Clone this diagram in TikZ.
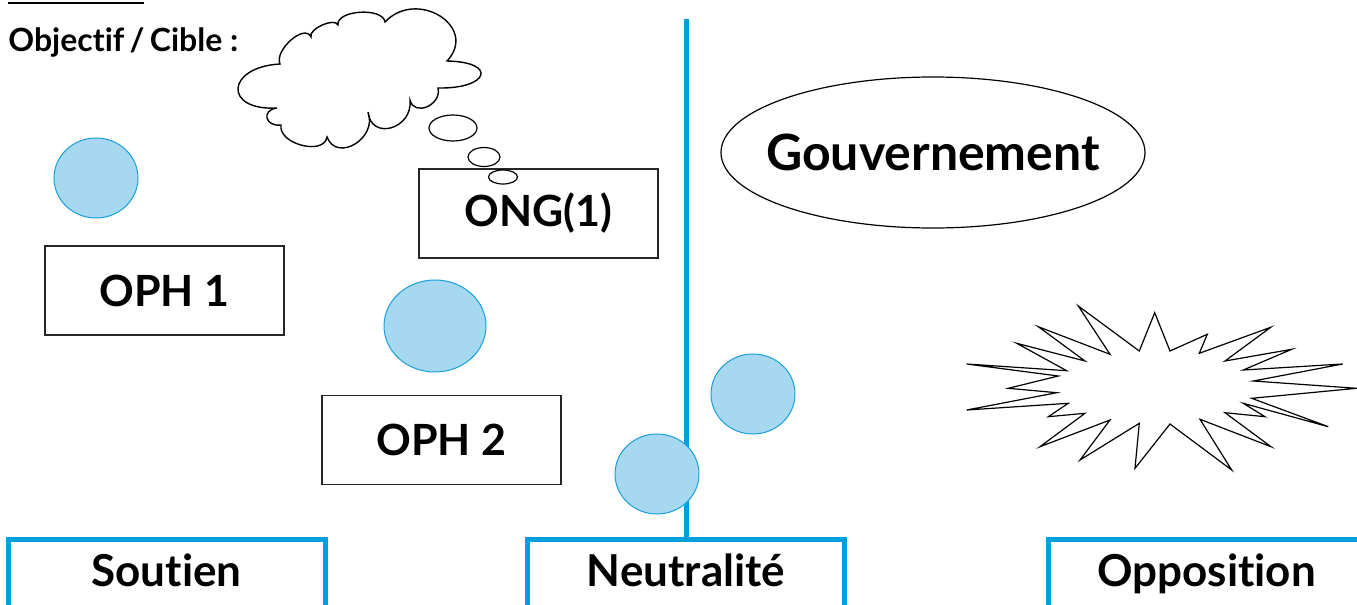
\documentclass[tikz,border=0pt]{standalone}
\usepackage{fontspec}
\setmainfont{Lato}[Ligatures=NoCommon]
\usetikzlibrary{shapes.geometric,positioning}

\definecolor{bleutrait}{RGB}{0,160,223}
\definecolor{bleufond}{RGB}{166,216,240}
\definecolor{bleubord}{RGB}{25,160,220}

\begin{document}
\begin{tikzpicture}[
      x=0.5pt,
      y=-0.5pt
    ]

    \tikzstyle{acteur} = [
        ellipse,
        draw=bleubord,
        fill=bleufond,
        line width=0.5pt,
        inner sep=0pt,
        minimum width=42pt,
        minimum height=40pt
    ]

    \tikzstyle{block} = [
        rectangle,
        draw=black!85,
        line width=0.8pt,
        minimum width=119.5pt,
        minimum height=44.5pt,
        font=\bfseries\fontsize{21.5}{22}\selectfont
    ]

    \tikzstyle{colonne} = [
        rectangle,
        draw=bleutrait,
        line width=2.5pt,
        minimum width=158.5pt,
        minimum height=120pt,
        anchor=north
    ]

    \tikzstyle{etiquette} = [
        anchor=base,
        inner sep=0pt,
        font=\bfseries\fontsize{22}{24}\selectfont
    ]

    \tikzstyle{bulle} = [
        ellipse,
        draw,
        line width=0.6pt,
        inner sep=0pt
    ]

    \clip (0,0) rectangle (1357,605);

    % titre
    \coordinate (traitg) at (8,3);
    \coordinate (traitd) at (144,3);
    \draw[line width=0.8pt] (traitg) -- (traitd);
    \node[anchor=base west, inner sep=0pt, font=\bfseries\fontsize{16}{18}\selectfont] (objectif) at (8,52) {Objectif\,/\,Cible :};

    % colonnes
    \node [colonne] (soutien)    at (166.5,537) {};
    \node [colonne] (neutre)     at (686,537)   {};
    \node [colonne] (opposition) at (1206.5,537) {};
    \coordinate (axehaut) at (686,19);
    \draw[bleutrait, line width=2.5pt] (axehaut) -- (neutre.north);

    \node [etiquette] (soutienlbl)    at (166.5,586)  {Soutien};
    \node [etiquette] (neutrelbl)     at (686,586)    {Neutralité};
    \node [etiquette] (oppositionlbl) at (1206.5,586) {Opposition};

    % nuage
    \draw[line width=0.7pt] (277,108)
        .. controls (223,111) and (226,67) .. (280,64)
        .. controls (274,50) and (305,23) .. (311,37)
        .. controls (308,29) and (335,17) .. (338,25)
        .. controls (336,10) and (383,7) .. (385,22)
        .. controls (417,-12) and (479,27) .. (447,61)
        .. controls (498,62) and (489,89) .. (438,88)
        .. controls (442,105) and (414,117) .. (410,100)
        .. controls (413,129) and (371,141) .. (368,112)
        .. controls (378,138) and (337,163) .. (327,137)
        .. controls (324,156) and (278,144) .. (281,125)
        .. controls (265,127) and (261,110) .. cycle;

    \node [bulle, minimum width=24pt, minimum height=13pt]  (pensee1) at (453,128) {};
    \node [bulle, minimum width=16pt, minimum height=9.5pt] (pensee2) at (484,157) {};

    % acteurs
    \node [block] (oph1) at (164.5,290.5) {OPH 1};
    \node [block] (oph2) at (441.5,440)   {OPH 2};
    \node [block, font=\bfseries\fontsize{21.5}{22}\selectfont] (ong) at (538.5,213.5) {ONG(1)};
    \node [bulle, minimum width=14.5pt, minimum height=7pt] (pensee3) at (503,177) {};

    \node [ellipse, draw, line width=0.6pt, inner xsep=-14pt, inner ysep=-6pt,
           minimum width=212pt, minimum height=75.5pt,
           font=\bfseries\fontsize{25}{26}\selectfont] (gouv) at (933,152.5) {Gouvernement};

    \node [acteur] (cercleA) at (96,178) {};
    \node [acteur, minimum width=51pt, minimum height=46pt] (cercleB) at (435,326) {};
    \node [acteur] (cercleC) at (753,394) {};
    \node [acteur] (cercleD) at (657,474) {};

    % explosion
    \draw[line width=0.6pt] (1154.7,312.7) -- (1170,351) -- (1207.3,334.3) -- (1199.3,353.3)
        -- (1270.7,327.3) -- (1225,361) -- (1291.7,349.3) -- (1243.3,370)
        -- (1342.7,364) -- (1253.3,381) -- (1356.7,388.3) -- (1251.7,398.3)
        -- (1328.3,426.7) -- (1243.3,403.3) -- (1265,416.7) -- (1225,412.7)
        -- (1271,446.7) -- (1200,419.3) -- (1231.7,470) -- (1170,424)
        -- (1135,468.3) -- (1139.3,423.3) -- (1080,460) -- (1110,420)
        -- (1040,446.7) -- (1085,413.3) -- (1048.3,416.7) -- (1068.3,403.3)
        -- (966.7,410) -- (1056.7,392.7) -- (1008.3,388.3) -- (1058.3,376)
        -- (966.7,364) -- (1066.7,370.7) -- (1016.7,343.3) -- (1085,361)
        -- (1038.3,326.7) -- (1110,354.3) -- (1078.3,306) -- (1139.3,351) -- cycle;

\end{tikzpicture}
\end{document}
